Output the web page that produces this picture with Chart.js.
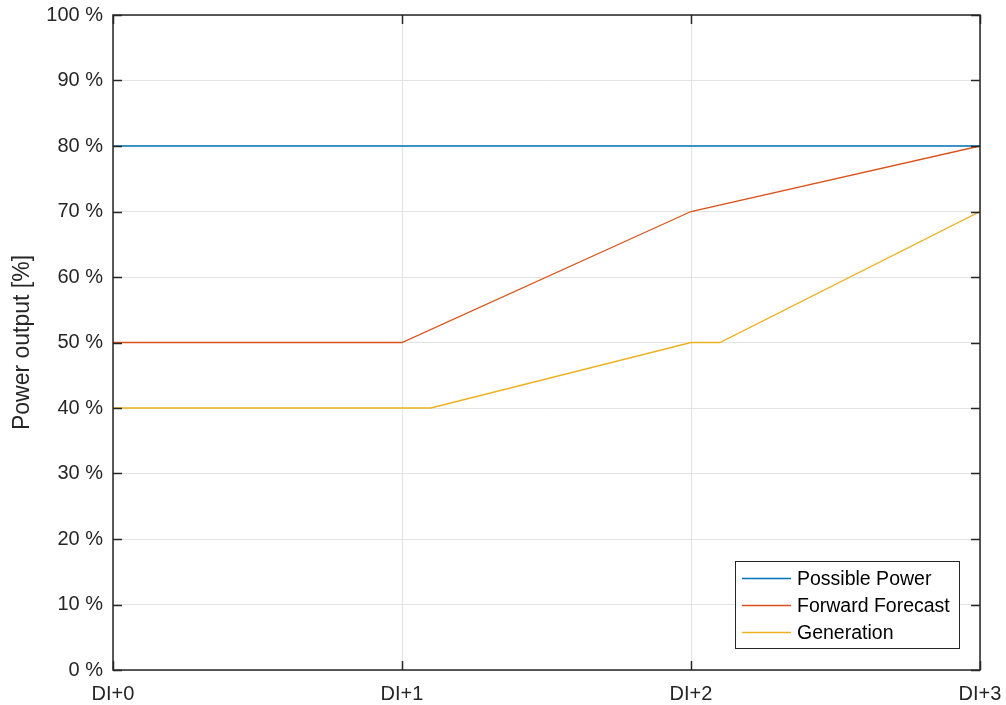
<!DOCTYPE html>
<html>
<head>
<meta charset="utf-8">
<title>Power output</title>
<script src="https://cdn.jsdelivr.net/npm/chart.js@4/dist/chart.umd.min.js"></script>
<style>
  html, body { margin: 0; padding: 0; background: #fff; }
  #wrap { width: 1006px; height: 705px; }
</style>
</head>
<body>
<div id="wrap"><canvas id="c" width="1006" height="705"></canvas></div>
<script>
// Day-index positions and their tick labels
const tickPositions = [0, 1, 2, 3];
const tickLabels = ['DI+0', 'DI+1', 'DI+2', 'DI+3'];

// Series (x in day-index units, y in percent)
const possibleX = [0, 1, 2, 3];
const possibleY = [80, 80, 80, 80];
const forecastX = [0, 1, 2, 3];
const forecastY = [50, 50, 70, 80];
const generationX = [0, 1.1, 2, 2.1, 3];
const generationY = [40, 40, 50, 50, 70];

const seriesNames = ['Possible Power', 'Forward Forecast', 'Generation'];
const seriesColors = ['#0072BD', '#D95319', '#EDB120'];

const FONT = '"Liberation Sans", Arial, Helvetica, sans-serif';
const AXIS = '#262626';

function pts(xs, ys) { return xs.map((x, i) => ({ x: x, y: ys[i] })); }

const datasets = [
  pts(possibleX, possibleY),
  pts(forecastX, forecastY),
  pts(generationX, generationY)
].map((d, i) => ({
  label: seriesNames[i],
  data: d,
  borderColor: seriesColors[i],
  backgroundColor: seriesColors[i],
  borderWidth: 1.3,
  pointRadius: 0,
  tension: 0,
  fill: false
}));

// Axis box, inward tick marks and the boxed legend
const boxPlugin = {
  id: 'boxPlugin',
  afterDatasetsDraw(chart) {
    const ctx = chart.ctx;
    const a = chart.chartArea;
    const xs = chart.scales.x, ys = chart.scales.y;
    const tl = 9;
    ctx.save();
    ctx.strokeStyle = AXIS;
    ctx.lineWidth = 1.5;
    ctx.strokeRect(a.left, a.top, a.right - a.left, a.bottom - a.top);
    ctx.beginPath();
    ys.ticks.forEach(t => {
      const y = Math.round(ys.getPixelForValue(t.value)) + 0.5;
      ctx.moveTo(a.left, y); ctx.lineTo(a.left + tl, y);
      ctx.moveTo(a.right, y); ctx.lineTo(a.right - tl, y);
    });
    tickPositions.forEach(v => {
      const x = Math.round(xs.getPixelForValue(v)) + 0.5;
      ctx.moveTo(x, a.bottom); ctx.lineTo(x, a.bottom - tl);
      ctx.moveTo(x, a.top); ctx.lineTo(x, a.top + tl);
    });
    ctx.stroke();

    // legend
    const w = 224, h = 87;
    const lx = a.right - 21 - w, ly = a.bottom - 22 - h;
    ctx.fillStyle = '#fff';
    ctx.fillRect(lx, ly, w, h);
    ctx.lineWidth = 1;
    ctx.strokeStyle = AXIS;
    ctx.strokeRect(lx + 0.5, ly + 0.5, w, h);
    ctx.font = '19.5px ' + FONT;
    ctx.textBaseline = 'middle';
    ctx.textAlign = 'left';
    chart.data.datasets.forEach((ds, i) => {
      const yy = ly + 17.5 + i * 27;
      ctx.strokeStyle = ds.borderColor;
      ctx.lineWidth = 1.3;
      ctx.beginPath();
      ctx.moveTo(lx + 7, yy); ctx.lineTo(lx + 56, yy);
      ctx.stroke();
      ctx.fillStyle = '#000';
      ctx.fillText(ds.label, lx + 62, yy + 1);
    });
    ctx.restore();
  }
};

new Chart(document.getElementById('c'), {
  type: 'line',
  data: { datasets: datasets },
  options: {
    responsive: false,
    animation: false,
    events: [],
    layout: { padding: { top: 15, right: 26, left: 0, bottom: 0 } },
    plugins: { legend: { display: false }, tooltip: { enabled: false } },
    scales: {
      x: {
        type: 'linear',
        min: 0, max: 3,
        afterBuildTicks(s) { s.ticks = tickPositions.map(v => ({ value: v })); },
        afterFit(s) { s.height = 35; s.paddingLeft = 0; s.paddingRight = 0; },
        grid: { color: '#e3e3e3', lineWidth: 1, drawTicks: false },
        border: { display: false },
        ticks: {
          callback: (v) => tickLabels[tickPositions.indexOf(v)],
          font: { family: FONT, size: 20 },
          color: AXIS,
          padding: 12,
          maxRotation: 0,
          autoSkip: false
        }
      },
      y: {
        min: 0, max: 100,
        afterFit(s) { s.width = 113; s.paddingTop = 0; s.paddingBottom = 0; },
        grid: { color: '#e3e3e3', lineWidth: 1, drawTicks: false },
        border: { display: false },
        ticks: {
          stepSize: 10,
          callback: (v) => v + ' %',
          font: { family: FONT, size: 20 },
          color: AXIS,
          padding: 10
        },
        title: {
          display: true,
          text: 'Power output [%]',
          font: { family: FONT, size: 23 },
          color: AXIS,
          padding: { top: 9, bottom: 0 }
        }
      }
    }
  },
  plugins: [boxPlugin]
});
</script>
</body>
</html>
